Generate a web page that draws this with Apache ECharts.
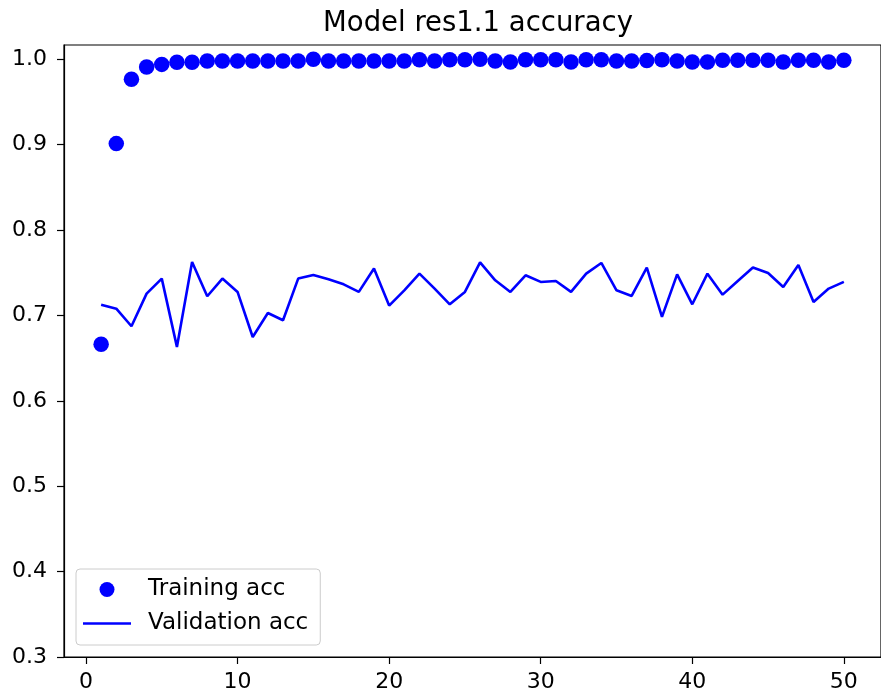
<!DOCTYPE html>
<html>
<head>
<meta charset="utf-8">
<script src="https://cdn.jsdelivr.net/npm/echarts@6/dist/echarts.min.js"></script>
<style>
  html, body { margin: 0; padding: 0; background: #fff; }
  #chart { width: 881px; height: 698px; }
</style>
</head>
<body>
<div id="chart"></div>
<script>
// Per-epoch accuracy of model res1.1
const epochs = [1, 2, 3, 4, 5, 6, 7, 8, 9, 10, 11, 12, 13, 14, 15, 16, 17, 18, 19, 20,
  21, 22, 23, 24, 25, 26, 27, 28, 29, 30, 31, 32, 33, 34, 35, 36, 37, 38, 39, 40,
  41, 42, 43, 44, 45, 46, 47, 48, 49, 50];

const trainingAcc = [0.6663, 0.9013, 0.9766, 0.9910, 0.9941, 0.9965, 0.9965, 0.9980, 0.9980, 0.9980,
  0.9980, 0.9980, 0.9980, 0.9980, 1.0000, 0.9980, 0.9980, 0.9980, 0.9980, 0.9980,
  0.9980, 0.9995, 0.9980, 0.9995, 0.9995, 1.0000, 0.9980, 0.9970, 0.9995, 0.9995,
  0.9995, 0.9970, 0.9995, 0.9995, 0.9980, 0.9980, 0.9985, 0.9995, 0.9980, 0.9970,
  0.9970, 0.9990, 0.9990, 0.9990, 0.9990, 0.9970, 0.9990, 0.9990, 0.9970, 0.9990];

const validationAcc = [0.7127, 0.7080, 0.6874, 0.7256, 0.7432, 0.6632, 0.7627, 0.7225, 0.7432, 0.7276,
  0.6748, 0.7029, 0.6944, 0.7432, 0.7475, 0.7424, 0.7365, 0.7276, 0.7550, 0.7116,
  0.7295, 0.7490, 0.7315, 0.7131, 0.7276, 0.7623, 0.7412, 0.7276, 0.7471, 0.7393,
  0.7404, 0.7276, 0.7490, 0.7615, 0.7295, 0.7229, 0.7561, 0.6983, 0.7482, 0.7131,
  0.7490, 0.7244, 0.7404, 0.7561, 0.7498, 0.7334, 0.7591, 0.7158, 0.7315, 0.7393];

const xTicks = [0, 10, 20, 30, 40, 50];
const yTicks = [0.3, 0.4, 0.5, 0.6, 0.7, 0.8, 0.9, 1.0];

const FONT = '"DejaVu Sans", sans-serif';
const BLUE = '#0000ff';

const chart = echarts.init(document.getElementById('chart'), null, { renderer: 'canvas' });

chart.setOption({
  backgroundColor: '#ffffff',
  animation: false,
  title: {
    text: 'Model res1.1 accuracy',
    left: 473,
    top: 5,
    textAlign: 'center',
    textStyle: { fontFamily: FONT, fontSize: 27.5, fontWeight: 'normal', color: '#000' }
  },
  grid: {
    left: 64,
    top: 45,
    width: 819,
    height: 612,
    show: true,
    borderColor: '#000',
    borderWidth: 1.2,
    backgroundColor: 'transparent'
  },
  legend: {
    orient: 'vertical',
    left: 76,
    top: 569,
    padding: [9, 12, 10, 7],
    itemGap: 11,
    itemWidth: 48,
    itemHeight: 15,
    symbolKeepAspect: true,
    backgroundColor: 'rgba(255,255,255,0.8)',
    borderColor: '#cccccc',
    borderWidth: 1,
    borderRadius: 4,
    textStyle: { fontFamily: FONT, fontSize: 23, color: '#000', padding: [0, 0, 0, 12] },
    data: [
      { name: 'Training acc', icon: 'circle' },
      // plain stroke sample for the line series
      { name: 'Validation acc', icon: 'path://M0,0 L48,0 L48,2.6 L0,2.6 Z' }
    ]
  },
  xAxis: {
    type: 'value',
    min: -1.45,
    max: 52.45,
    splitLine: { show: false },
    axisLine: { show: true, onZero: false, lineStyle: { color: '#000', width: 1.2 } },
    axisTick: { show: true, length: 7, inside: false, customValues: xTicks, lineStyle: { color: '#000', width: 1.2 } },
    axisLabel: {
      customValues: xTicks,
      fontFamily: FONT, fontSize: 22, color: '#000', margin: 14
    }
  },
  yAxis: {
    type: 'value',
    min: 0.3,
    max: 1.0168,
    splitLine: { show: false },
    axisLine: { show: true, onZero: false, lineStyle: { color: '#000', width: 1.2 } },
    axisTick: { show: true, length: 7, inside: false, customValues: yTicks, lineStyle: { color: '#000', width: 1.2 } },
    axisLabel: {
      customValues: yTicks,
      formatter: v => v.toFixed(1),
      fontFamily: FONT, fontSize: 22, color: '#000', margin: 17
    }
  },
  series: [
    {
      name: 'Training acc',
      type: 'scatter',
      symbol: 'circle',
      symbolSize: 15.5,
      itemStyle: { color: BLUE, opacity: 1 },
      data: epochs.map((e, i) => [e, trainingAcc[i]]),
      z: 2
    },
    {
      name: 'Validation acc',
      type: 'line',
      symbol: 'none',
      showSymbol: false,
      lineStyle: { color: BLUE, width: 2.6 },
      itemStyle: { color: BLUE },
      data: epochs.map((e, i) => [e, validationAcc[i]]),
      z: 3
    }
  ]
});
</script>
</body>
</html>
